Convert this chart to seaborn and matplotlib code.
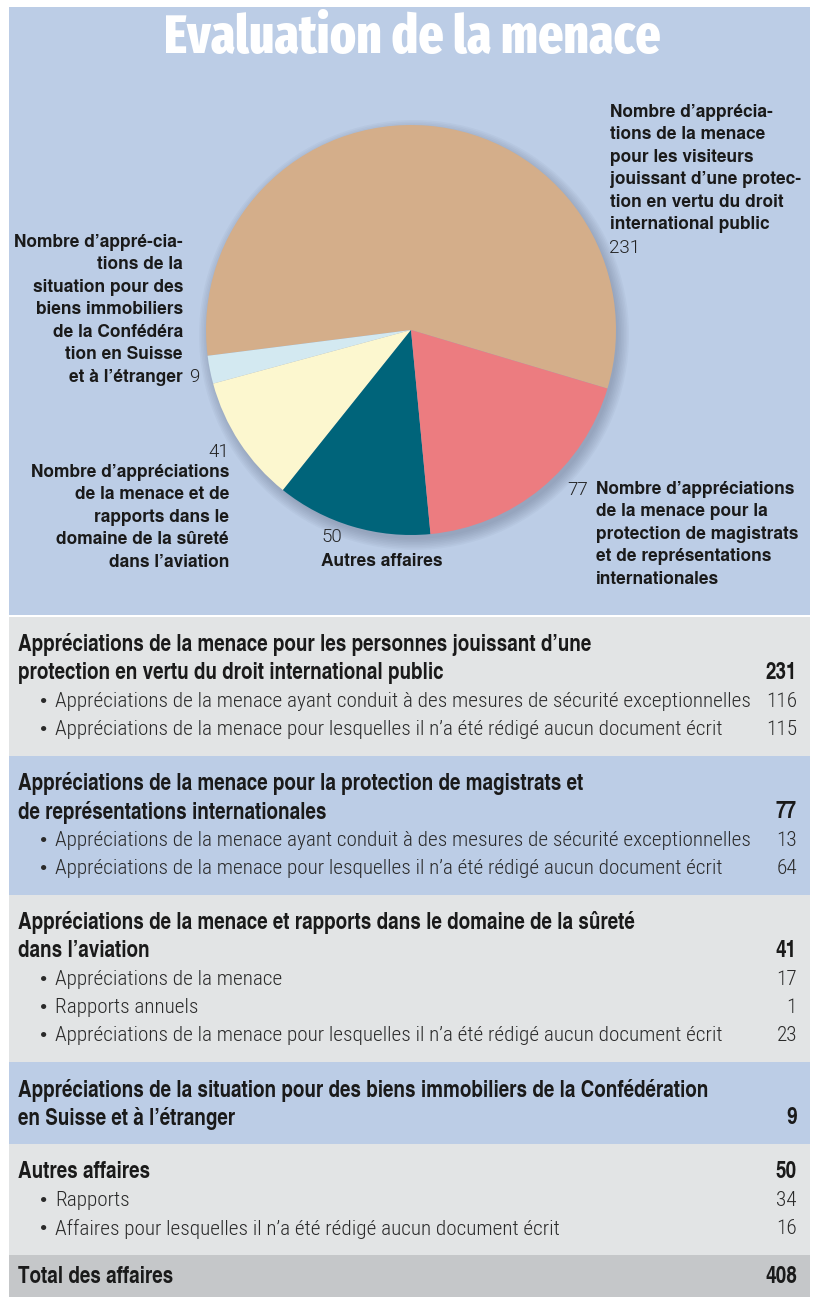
import matplotlib
matplotlib.use('Agg')
import matplotlib.pyplot as plt
from matplotlib.patches import Rectangle, Circle
import seaborn as sns


title = 'Evaluation de la menace'

pie_values = [231, 9, 41, 50, 77]
pie_colors = ['#d4ae8a', '#d3e9f1', '#fcf7cf', '#00647a', '#ec7c80']

label_visiteurs = ('Nombre d’apprécia-\ntions de la menace\npour les visiteurs\n'
                   'jouissant d’une protec-\ntion en vertu du droit\ninternational public')
label_biens = ('Nombre d’appré-cia-\ntions de la\nsituation pour des\nbiens immobiliers\n'
               'de la Confédéra\ntion en Suisse\net à l’étranger')
label_aviation = ('Nombre d’appréciations\nde la menace et de\nrapports dans le\n'
                  'domaine de la sûreté\ndans l’aviation')
label_autres = 'Autres affaires'
label_magistrats = ('Nombre d’appréciations\nde la menace pour la\nprotection de magistrats\n'
                    'et de représentations\ninternationales')

section_titles = [
    'Appréciations de la menace pour les personnes jouissant d’une\nprotection en vertu du droit international public',
    'Appréciations de la menace pour la protection de magistrats et\nde représentations internationales',
    'Appréciations de la menace et rapports dans le domaine de la sûreté\ndans l’aviation',
    'Appréciations de la situation pour des biens immobiliers de la Confédération\nen Suisse et à l’étranger',
    'Autres affaires',
]
section_totals = [231, 77, 41, 9, 50]
section_items = [
    ['Appréciations de la menace ayant conduit à des mesures de sécurité exceptionnelles',
     'Appréciations de la menace pour lesquelles il n’a été rédigé aucun document écrit'],
    ['Appréciations de la menace ayant conduit à des mesures de sécurité exceptionnelles',
     'Appréciations de la menace pour lesquelles il n’a été rédigé aucun document écrit'],
    ['Appréciations de la menace',
     'Rapports annuels',
     'Appréciations de la menace pour lesquelles il n’a été rédigé aucun document écrit'],
    [],
    ['Rapports',
     'Affaires pour lesquelles il n’a été rédigé aucun document écrit'],
]
section_item_values = [[116, 115], [13, 64], [17, 1, 23], [], [34, 16]]
total_label = 'Total des affaires'
total_value = 408


def main() -> None:
    sns.set_theme(style='white')
    plt.rcParams['font.family'] = ['TeX Gyre Heros', 'DejaVu Sans']

    blue = '#bccde6'
    grey = '#e2e4e5'
    dark = '#1a1a1a'
    cond_bold = ['TeX Gyre Heros Cn', 'DejaVu Sans']
    cond_light = ['Roboto Condensed', 'DejaVu Sans']
    heros = ['TeX Gyre Heros', 'DejaVu Sans']
    light = ['Roboto', 'DejaVu Sans']

    fig = plt.figure(figsize=(8.17, 13.02), dpi=100)
    fig.patch.set_facecolor('white')

    bg = fig.add_axes([0, 0, 1, 1])
    bg.set_xlim(0, 817)
    bg.set_ylim(1302, 0)
    bg.axis('off')

    # top panel
    bg.add_patch(Rectangle((9, 7), 801, 608, color=blue, lw=0))
    bg.text(412, 39, title, color='white', fontsize=38.5, fontweight=800,
            family=['Fira Sans Extra Condensed', 'DejaVu Sans'], ha='center', va='center')

    # pie labels
    lab = dict(fontsize=12.5, fontweight='bold', family=heros, color=dark, linespacing=1.42)
    num = dict(fontsize=13.5, fontweight=300, family=light, color='#222222')
    bg.text(610, 104, label_visiteurs, ha='left', va='top', **lab)
    bg.text(609, 248, str(pie_values[0]), ha='left', va='center', **num)
    bg.text(183, 234, label_biens, ha='right', va='top', multialignment='right', **lab)
    bg.text(189, 377, str(pie_values[1]), ha='left', va='center', **num)
    bg.text(229, 452, str(pie_values[2]), ha='right', va='center', **num)
    bg.text(229, 464, label_aviation, ha='right', va='top', multialignment='right', **lab)
    bg.text(321, 537, str(pie_values[3]), ha='left', va='center', **num)
    bg.text(321, 562, label_autres, ha='left', va='center', **lab)
    bg.text(567, 490, str(pie_values[4]), ha='left', va='center', **num)
    bg.text(596, 481, label_magistrats, ha='left', va='top', **lab)

    # table sections
    step = 28.3
    top = 617
    head_size = 16.6
    item_size = 15.3
    for i, (head, tot, items, vals) in enumerate(zip(section_titles, section_totals,
                                                     section_items, section_item_values)):
        head_lines = head.split('\n')
        n = len(head_lines) + len(items)
        bottom = top + 27 + (n - 1) * step + 27
        bg.add_patch(Rectangle((9, top), 801, bottom - top,
                               color=grey if i % 2 == 0 else blue, lw=0))
        y = top + 28
        for k, line in enumerate(head_lines):
            bg.text(18, y, line, fontsize=head_size, fontweight='bold', family=cond_bold,
                    color=dark, ha='left', va='center')
            if k == len(head_lines) - 1:
                bg.text(797, y, str(tot), fontsize=head_size, fontweight='bold',
                        family=cond_bold, color=dark, ha='right', va='center')
            y += step
        for item, v in zip(items, vals):
            bg.text(40, y, '•', fontsize=item_size, fontweight='bold', family=heros,
                    color='#2a2a2a', ha='left', va='center')
            bg.text(55, y, item, fontsize=item_size, fontweight=300, family=cond_light,
                    color='#2a2a2a', ha='left', va='center')
            bg.text(797, y, str(v), fontsize=item_size, fontweight=300, family=cond_light,
                    color='#2a2a2a', ha='right', va='center')
            y += step
        top = bottom

    bg.add_patch(Rectangle((9, top), 801, 1297 - top, color='#c5c7c9', lw=0))
    bg.text(18, (top + 1297) / 2 + 1, total_label, fontsize=head_size, fontweight='bold',
            family=cond_bold, color=dark, ha='left', va='center')
    bg.text(797, (top + 1297) / 2 + 1, str(total_value), fontsize=head_size, fontweight='bold',
            family=cond_bold, color=dark, ha='right', va='center')

    # pie
    cx, cy, r = 411, 330, 205
    ax = fig.add_axes([(cx - r - 20) / 817, 1 - (cy + r + 20) / 1302,
                       (2 * r + 40) / 817, (2 * r + 40) / 1302])
    ax.set_aspect('equal')
    ax.axis('off')
    for k in range(8):
        ax.add_patch(Circle((3, -5), r + 10 - k * 1.6, color='#55607a', alpha=0.05, lw=0))
    ax.pie(pie_values, colors=pie_colors, startangle=-16.6, counterclock=True,
           radius=r, center=(0, 0), frame=False, wedgeprops={'linewidth': 0})
    ax.set_xlim(-r - 20, r + 20)
    ax.set_ylim(-r - 20, r + 20)

    plt.savefig('out.png', dpi=100)


if __name__ == '__main__':
    main()
